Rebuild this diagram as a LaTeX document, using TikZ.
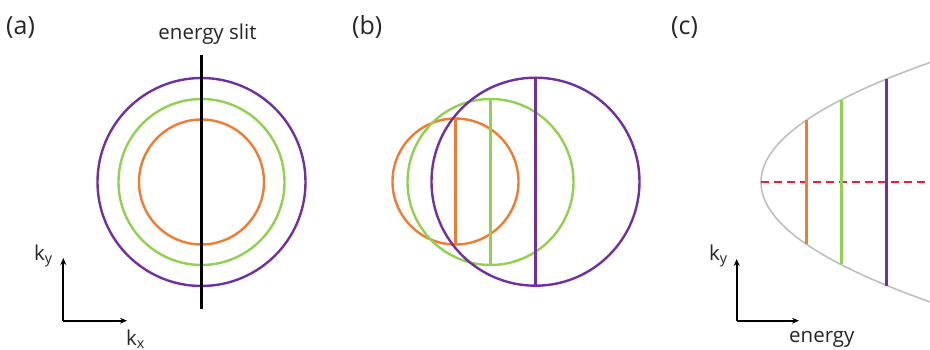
\documentclass[tikz,border=0pt]{standalone}
\usepackage{fontspec}
\setmainfont{Open Sans}
\usetikzlibrary{arrows.meta}
\definecolor{cpurple}{HTML}{7030A0}
\definecolor{cgreen}{HTML}{92D050}
\definecolor{corange}{HTML}{ED7D31}
\definecolor{cred}{HTML}{E8203A}
\definecolor{cgray}{HTML}{BFBFBF}
\definecolor{ctext}{HTML}{262626}
\tikzset{
  ring/.style={line width=2.4pt},
  chord/.style={line width=3pt},
  axisarrow/.style={line width=1.8pt,-{Stealth[length=7pt,width=6pt]}},
  panel/.style={font=\fontsize{25}{28}\selectfont,text=ctext,inner sep=0pt},
  axlabel/.style={font=\fontsize{20.5}{24}\selectfont,text=ctext,inner sep=0pt},
}
\begin{document}
\begin{tikzpicture}[x=1pt,y=-1pt]
\useasboundingbox (0,0) rectangle (930,350);
\clip (0,0) rectangle (930,350);
% ---------- panel (a)
\node[panel,anchor=base west] (la) at (6,35) {(a)};
\coordinate (ca) at (201.5,182);
\draw[ring,cpurple] (ca) circle[radius=104];
\draw[ring,cgreen] (ca) circle[radius=83];
\draw[ring,corange] (ca) circle[radius=62.5];
\coordinate (slittop) at (201.5,55);
\coordinate (slitbot) at (201.5,309);
\draw[line width=3.4pt,black] (slittop) -- (slitbot);
\node[axlabel,anchor=base] (slitlabel) at (207.5,40) {energy slit};
\coordinate (oa) at (63.3,320.7);
\coordinate (ya) at (63.3,258);
\coordinate (xa) at (127,320.7);
\draw[axisarrow] (oa) -- (ya);
\draw[axisarrow] (oa) -- (xa);
\node[axlabel,anchor=base west] (kya) at (34,260) {k\textsubscript{y}};
\node[axlabel,anchor=base west] (kxa) at (126,345) {k\textsubscript{x}};
% ---------- panel (b)
\node[panel,anchor=base west] (lb) at (352,35) {(b)};
\coordinate (cbo) at (455.5,181.5);
\coordinate (cbg) at (490.5,182);
\coordinate (cbp) at (535.5,181.7);
\draw[ring,corange] (cbo) circle[radius=63];
\draw[ring,cgreen] (cbg) circle[radius=83];
\draw[ring,cpurple] (cbp) circle[radius=104];
\draw[chord,corange] ([yshift=-63pt]cbo) -- ([yshift=63pt]cbo);
\draw[chord,cgreen] ([yshift=-83pt]cbg) -- ([yshift=83pt]cbg);
\draw[chord,cpurple] ([yshift=-104pt]cbp) -- ([yshift=104pt]cbp);
% ---------- panel (c)
\node[panel,anchor=base west] (lc) at (671,35) {(c)};
\coordinate (vc) at (761,182.2);
\draw[line width=1.6pt,cgray] plot[domain=-125:125,samples=120,smooth] ({761+0.0118*\x*\x},{182.2+\x});
\coordinate (redend) at (935,182.2);
\draw[line width=2pt,cred,dash pattern=on 8pt off 5pt] (vc) -- (redend);
\coordinate (o1) at (806.5,119.8);
\coordinate (o2) at (806.5,243.6);
\coordinate (g1) at (841.5,100);
\coordinate (g2) at (841.5,264.4);
\coordinate (p1) at (886.5,78.8);
\coordinate (p2) at (886.5,285.6);
\draw[chord,corange] (o1) -- (o2);
\draw[chord,cgreen] (g1) -- (g2);
\draw[chord,cpurple] (p1) -- (p2);
\coordinate (oc) at (736.7,320.7);
\coordinate (yc) at (736.7,259);
\coordinate (xc) at (799,320.7);
\draw[axisarrow] (oc) -- (yc);
\draw[axisarrow] (oc) -- (xc);
\node[axlabel,anchor=base west] (kyc) at (709,260) {k\textsubscript{y}};
\node[axlabel,anchor=base west] (ene) at (789,342) {energy};
\end{tikzpicture}
\end{document}
